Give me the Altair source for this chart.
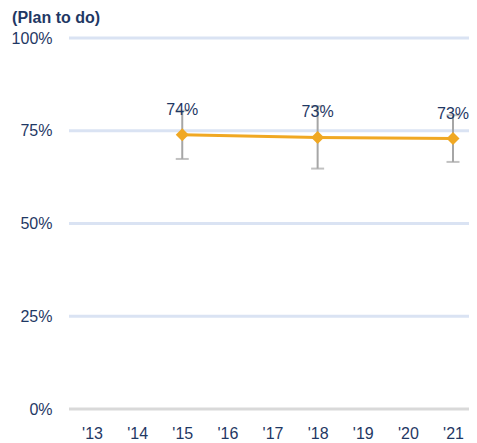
import altair as alt
import pandas as pd

years = ["'13", "'14", "'15", "'16", "'17", "'18", "'19", "'20", "'21"]
point_years = ["'15", "'18", "'21"]
values = [73.9, 73.2, 72.9]
lower = [67.4, 64.8, 66.6]
upper = [80.4, 81.6, 79.2]
labels = ["74%", "73%", "73%"]
grid_values = [0, 25, 50, 75, 100]

df = pd.DataFrame({"year": point_years, "value": values, "lo": lower, "hi": upper, "label": labels})
grid_df = pd.DataFrame({"g": grid_values})

NAVY = "#1f3864"
ORANGE = "#f0a823"
GREY = "#a6a6a6"
FONT = "Liberation Sans"
W = 400

x = alt.X("year:N", scale=alt.Scale(type="point", domain=years, range=[23, 384], padding=0),
          axis=alt.Axis(title=None, labelAngle=0, domain=False, ticks=False, grid=False,
                        labelPadding=16, labelFontSize=16, labelColor=NAVY, labelFont=FONT))
yscale = alt.Scale(domain=[0, 100], nice=False)
yaxis = alt.Axis(title=None, values=grid_values, domain=False, ticks=False, grid=False,
                 labelExpr="datum.value + '%'", labelPadding=17, labelFontSize=16,
                 labelColor=NAVY, labelFont=FONT)

grid = alt.Chart(grid_df).mark_rule(strokeWidth=3).encode(
    y=alt.Y("g:Q", scale=yscale, axis=yaxis),
    x=alt.value(0), x2=alt.value(W),
    color=alt.condition(alt.datum.g == 0, alt.value("#d9d9d9"), alt.value("#dae3f3")),
)

base = alt.Chart(df)
y = alt.Y("value:Q", scale=yscale)

err = base.mark_rule(color=GREY, strokeWidth=2).encode(x=x, y=alt.Y("lo:Q", scale=yscale), y2="hi:Q")
cap_lo = base.mark_tick(color=GREY, thickness=2, size=13, orient="horizontal").encode(x=x, y=alt.Y("lo:Q", scale=yscale))
cap_hi = base.mark_tick(color=GREY, thickness=2, size=13, orient="horizontal").encode(x=x, y=alt.Y("hi:Q", scale=yscale))
line = base.mark_line(color=ORANGE, strokeWidth=3).encode(x=x, y=y)
pts = base.mark_point(shape="diamond", filled=True, color=ORANGE, size=170, opacity=1).encode(x=x, y=y)
txt = base.mark_text(dy=-20, baseline="alphabetic", fontSize=16, color=NAVY, font=FONT).encode(
    x=x, y=y, text="label:N")

chart = alt.layer(grid, err, cap_lo, cap_hi, line, pts, txt).properties(
    width=W, height=371,
    autosize=alt.AutoSizeParams(type="none"),
    padding={"left": 61, "top": 30, "right": 0, "bottom": 32},
    title=alt.TitleParams("(Plan to do)", anchor="start", dx=1, offset=4, fontSize=16,
                          font=FONT, fontWeight="bold", color=NAVY),
).configure_view(stroke=None)

chart.save("out.html", embed_options={"renderer": "svg", "actions": False})
